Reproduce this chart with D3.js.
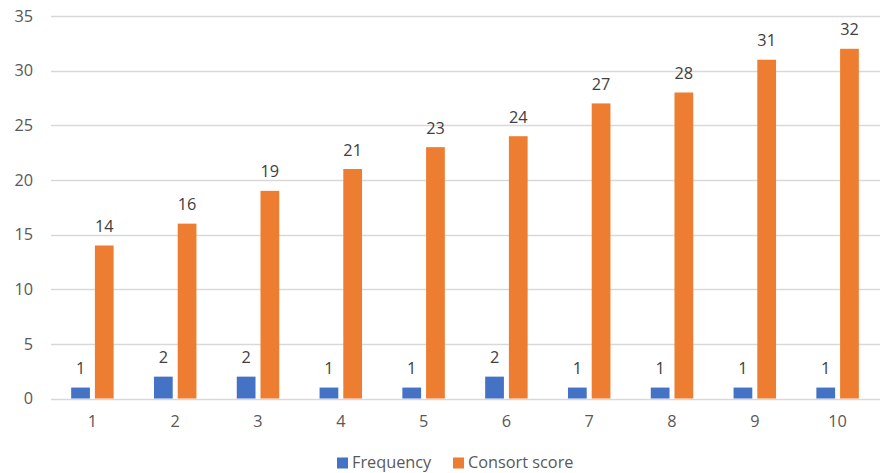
<!DOCTYPE html>
<html>
<head>
<meta charset="utf-8">
<script src="https://cdn.jsdelivr.net/npm/d3@7"></script>
<style>
  html, body { margin: 0; padding: 0; background: #fff; }
  svg { display: block; font-family: "Open Sans", sans-serif; }
</style>
</head>
<body>
<svg id="chart" width="880" height="473"></svg>
<script>
// Chart data
const categories = ["1", "2", "3", "4", "5", "6", "7", "8", "9", "10"];
const frequency = [1, 2, 2, 1, 1, 2, 1, 1, 1, 1];
const consortScore = [14, 16, 19, 21, 23, 24, 27, 28, 31, 32];
const yTicks = [0, 5, 10, 15, 20, 25, 30, 35];
const seriesNames = ["Frequency", "Consort score"];
const seriesColors = ["#4472C4", "#ED7D31"];

const svg = d3.select("#chart");
const plotLeft = 51, plotRight = 879, plotTop = 16, plotBottom = 398.5;
const fontSize = 16.3;

const x = d3.scaleBand().domain(categories).range([plotLeft, plotRight]).paddingInner(0).paddingOuter(0);
const x1 = d3.scaleBand().domain(seriesNames).range([0, x.bandwidth()]).paddingInner(0.21).paddingOuter(0.85);
const y = d3.scaleLinear().domain([0, 35]).range([plotBottom, plotTop]);

// Gridlines
svg.append("g")
  .selectAll("line")
  .data(yTicks)
  .join("line")
  .attr("x1", plotLeft).attr("x2", 880)
  .attr("y1", d => Math.round(y(d)) + 0.5).attr("y2", d => Math.round(y(d)) + 0.5)
  .attr("stroke", "#D9D9D9").attr("stroke-width", 1.4);

// Y axis labels
const yAxis = d3.axisLeft(y).tickValues(yTicks).tickSize(0).tickPadding(0);
const gy = svg.append("g").attr("transform", "translate(33,0)").call(yAxis);
gy.select(".domain").remove();
gy.selectAll("text").attr("font-size", fontSize).attr("fill", "#595959").attr("font-family", "'Open Sans', sans-serif");

// X axis labels
const xAxis = d3.axisBottom(x).tickSize(0).tickPadding(0);
const gx = svg.append("g").attr("transform", "translate(0,415)").call(xAxis);
gx.select(".domain").remove();
gx.selectAll("text").attr("font-size", fontSize).attr("fill", "#595959").attr("font-family", "'Open Sans', sans-serif");

const rows = categories.map((c, i) => ({ cat: c, vals: [frequency[i], consortScore[i]] }));

const groups = svg.append("g")
  .selectAll("g")
  .data(rows)
  .join("g")
  .attr("transform", d => `translate(${x(d.cat)},0)`);

groups.selectAll("rect")
  .data(d => d.vals.map((v, j) => ({ name: seriesNames[j], v, j })))
  .join("rect")
  .attr("x", d => x1(d.name))
  .attr("width", x1.bandwidth())
  .attr("y", d => y(d.v))
  .attr("height", d => y(0) - y(d.v))
  .attr("fill", d => seriesColors[d.j]);

groups.selectAll("text.val")
  .data(d => d.vals.map((v, j) => ({ name: seriesNames[j], v, j })))
  .join("text")
  .attr("class", "val")
  .attr("x", d => x1(d.name) + x1.bandwidth() / 2)
  .attr("y", d => y(d.v) - 13.5)
  .attr("text-anchor", "middle")
  .attr("font-size", fontSize)
  .attr("fill", "#404040")
  .text(d => d.v);

// Legend
const legend = svg.append("g").attr("transform", "translate(337,456)");
const legendX = [0, 116];
seriesNames.forEach((name, i) => {
  const g = legend.append("g").attr("transform", `translate(${legendX[i]},0)`);
  g.append("rect").attr("x", 0).attr("y", 1.5).attr("width", 11).attr("height", 11).attr("fill", seriesColors[i]);
  g.append("text").attr("x", 15).attr("y", 12).attr("font-size", fontSize).attr("fill", "#595959").text(name);
});
</script>
</body>
</html>
